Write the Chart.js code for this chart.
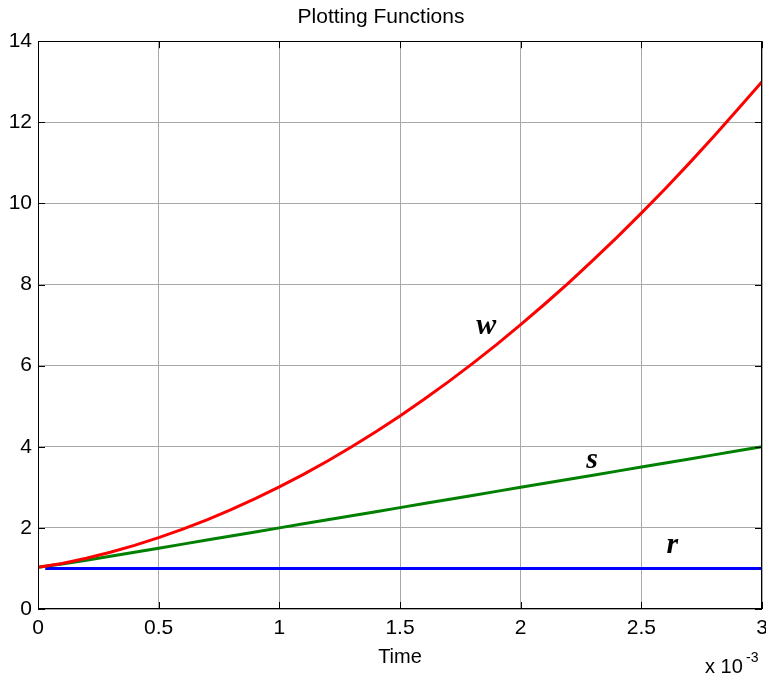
<!DOCTYPE html>
<html>
<head>
<meta charset="utf-8">
<script src="https://cdn.jsdelivr.net/npm/chart.js@4"></script>
<style>
  html, body { margin: 0; padding: 0; background: #fff; }
  canvas { display: block; }
</style>
</head>
<body>
<canvas id="c" width="766" height="680"></canvas>
<script>
// ---- data (time in units of 1e-3) ----
const time = [0,0.1,0.2,0.3,0.4,0.5,0.6,0.7,0.8,0.9,1.0,1.1,1.2,1.3,1.4,1.5,1.6,1.7,1.8,1.9,2.0,2.1,2.2,2.3,2.4,2.5,2.6,2.7,2.8,2.9,3.0];
const wValues = [1.03,1.12,1.25,1.40,1.57,1.76,1.97,2.20,2.45,2.72,3.01,3.32,3.65,4.00,4.37,4.76,5.17,5.60,6.05,6.52,7.01,7.52,8.05,8.60,9.17,9.76,10.37,11.00,11.65,12.32,13.00];
const sValues = [1.03,1.11,1.20,1.30,1.40,1.50,1.60,1.70,1.80,1.90,2.00,2.10,2.20,2.30,2.40,2.50,2.60,2.70,2.80,2.90,3.00,3.10,3.20,3.30,3.40,3.50,3.60,3.70,3.80,3.90,4.00];
const rTime = [0.03, 3.0];
const rValues = [1.0, 1.0];
const xTicks = [0,0.5,1,1.5,2,2.5,3];
const yTicks = [0,2,4,6,8,10,12,14];
const curveLabels = ['w','s','r'];
const curveLabelX = [1.857, 2.296, 2.628];
const curveLabelY = [6.98, 3.67, 1.58];

const toPts = (xs, ys) => xs.map((x, i) => ({x: x, y: ys[i]}));

const FONT = '"Liberation Sans", Arial, Helvetica, sans-serif';

const decor = {
  id: 'decor',
  afterDatasetsDraw(chart) {
    const ctx = chart.ctx;
    const a = chart.chartArea;
    const xs = chart.scales.x, ys = chart.scales.y;
    ctx.save();
    // box
    ctx.strokeStyle = '#000';
    ctx.lineWidth = 1;
    ctx.strokeRect(Math.round(a.left) + 0.5, Math.round(a.top) + 0.5,
                   Math.round(a.right - a.left) - 1, Math.round(a.bottom - a.top) - 1);
    // inward ticks
    const tl = 7;
    ctx.beginPath();
    xTicks.forEach(v => {
      const px = Math.round(xs.getPixelForValue(v)) + 0.5;
      ctx.moveTo(px, a.bottom); ctx.lineTo(px, a.bottom - tl);
      ctx.moveTo(px, a.top); ctx.lineTo(px, a.top + tl);
    });
    yTicks.forEach(v => {
      const py = Math.round(ys.getPixelForValue(v)) + 0.5;
      ctx.moveTo(a.left, py); ctx.lineTo(a.left + tl, py);
      ctx.moveTo(a.right, py); ctx.lineTo(a.right - tl, py);
    });
    ctx.stroke();
    // curve labels
    ctx.fillStyle = '#000';
    ctx.font = 'italic bold 30px "Liberation Serif", "Times New Roman", serif';
    ctx.textAlign = 'center';
    ctx.textBaseline = 'middle';
    curveLabels.forEach((t, i) => {
      ctx.fillText(t, xs.getPixelForValue(curveLabelX[i]), ys.getPixelForValue(curveLabelY[i]));
    });
    // exponent label
    ctx.font = '20px ' + FONT;
    ctx.textAlign = 'left';
    ctx.textBaseline = 'middle';
    ctx.fillText('x 10', 705, 667);
    ctx.font = '14px ' + FONT;
    ctx.fillText('-3', 746, 658);
    ctx.restore();
  }
};

new Chart(document.getElementById('c'), {
  type: 'line',
  data: {
    datasets: [
      { label: 'w', data: toPts(time, wValues), borderColor: '#ff0000', borderWidth: 3, pointRadius: 0, fill: false, tension: 0 },
      { label: 's', data: toPts(time, sValues), borderColor: '#008000', borderWidth: 3, pointRadius: 0, fill: false, tension: 0 },
      { label: 'r', data: toPts(rTime, rValues), borderColor: '#0000ff', borderWidth: 3, pointRadius: 0, fill: false, tension: 0 }
    ]
  },
  options: {
    responsive: false,
    animation: false,
    devicePixelRatio: 1,
    layout: { padding: { left: 0, right: 4, top: 0, bottom: 0 } },
    plugins: {
      legend: { display: false },
      tooltip: { enabled: false },
      title: {
        display: true,
        text: 'Plotting Functions',
        color: '#000',
        font: { family: FONT, size: 21, weight: 'normal' },
        padding: { top: 5, bottom: 11 }
      }
    },
    scales: {
      x: {
        type: 'linear',
        min: 0, max: 3,
        afterBuildTicks(s) { s.ticks = xTicks.map(v => ({value: v})); },
        afterFit(s) { s.height = 71; s.paddingRight = 0; s.paddingLeft = 0; },
        ticks: { color: '#000', font: { family: FONT, size: 21 }, padding: 7, maxRotation: 0, autoSkip: false,
                 callback: v => String(v) },
        grid: { color: '#a8a8a8', lineWidth: 1, drawTicks: false },
        border: { display: false },
        title: { display: true, text: 'Time', color: '#000', font: { family: FONT, size: 20 }, padding: { top: 0, bottom: 11 } }
      },
      y: {
        type: 'linear',
        min: 0, max: 14,
        afterBuildTicks(s) { s.ticks = yTicks.map(v => ({value: v})); },
        afterFit(s) { s.width = 38; },
        ticks: { color: '#000', font: { family: FONT, size: 21 }, padding: 6, autoSkip: false,
                 callback: v => String(v) },
        grid: { color: '#a8a8a8', lineWidth: 1, drawTicks: false },
        border: { display: false }
      }
    }
  },
  plugins: [decor]
});
</script>
</body>
</html>
